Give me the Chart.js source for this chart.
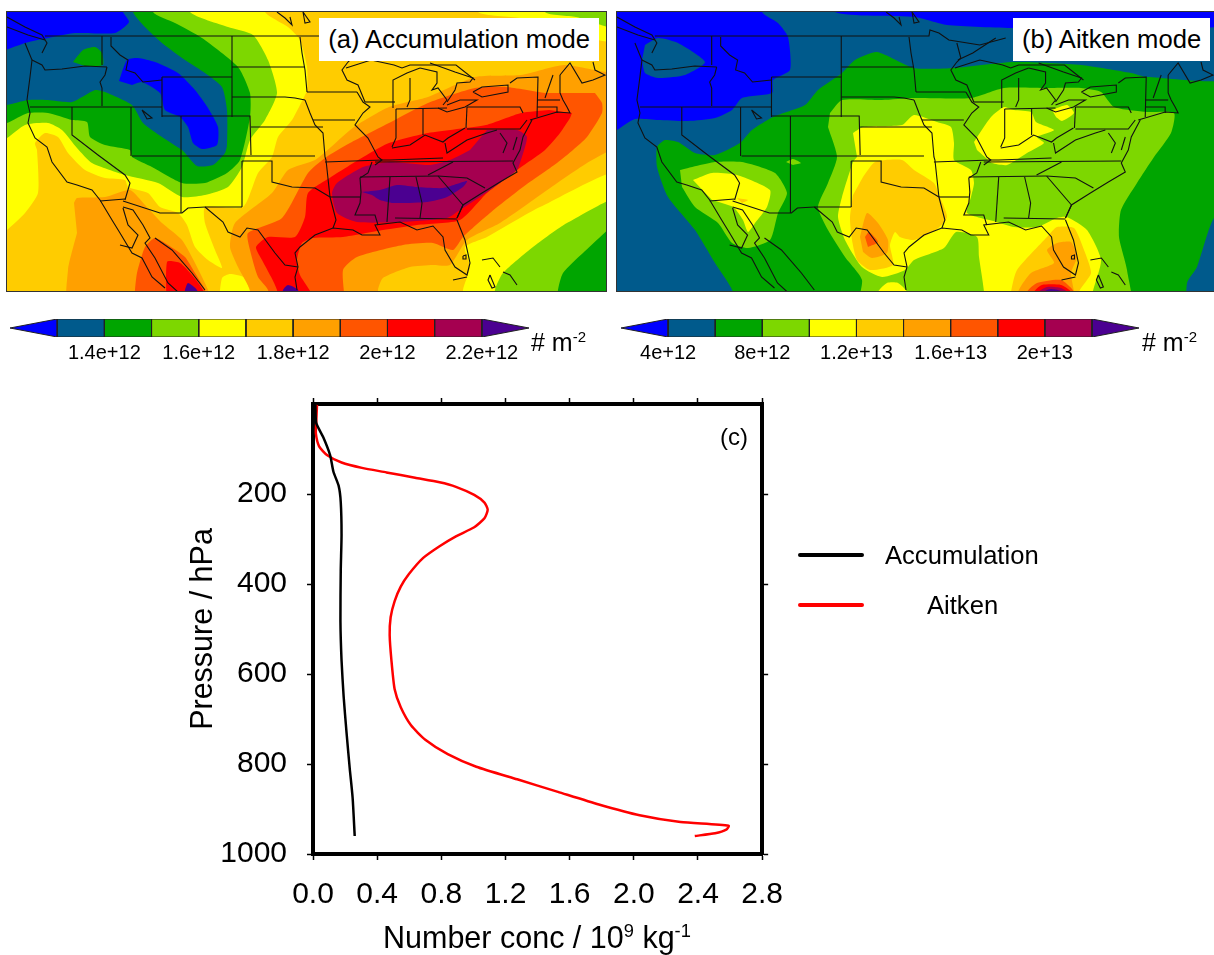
<!DOCTYPE html>
<html lang="en">
<head>
<meta charset="UTF-8">
<title>Aerosol number concentration</title>
<script src="https://cdn.jsdelivr.net/npm/chart.js"></script>
<style>
  html, body { margin: 0; background: #fff; }
  body { position: relative; width: 1214px; height: 955px; overflow: hidden; font-family: "Liberation Sans", Arial, sans-serif; color: #000; }
  .abs { position: absolute; }
  .map { outline: 1px solid #333; }
  .tag { background: #fff; font-size: 25.6px; line-height: 43px; height: 43px; text-align: center; white-space: nowrap; }
  .unit { font-size: 25px; white-space: nowrap; }
  sup { font-size: 60%; line-height: 0; }
</style>
</head>
<body>
  <canvas id="mapA" class="abs map" style="left:7px;top:12px"></canvas>
  <canvas id="mapB" class="abs map" style="left:617px;top:12px"></canvas>
  <div class="abs tag" style="left:319px;top:18px;width:280px">(a) Accumulation mode</div>
  <div class="abs tag" style="left:1013px;top:18px;width:197px">(b) Aitken mode</div>

  <canvas id="barA" class="abs" style="left:0;top:312px"></canvas>
  <canvas id="barB" class="abs" style="left:607px;top:312px"></canvas>
  <div class="abs unit" style="left:531px;top:328px"># m<sup>-2</sup></div>
  <div class="abs unit" style="left:1142px;top:328px"># m<sup>-2</sup></div>

  <canvas id="profile" class="abs" style="left:170px;top:390px"></canvas>
  <div class="abs" style="left:720px;top:423px;font-size:24px">(c)</div>
  <div class="abs" style="left:383px;top:920px;font-size:30.5px;white-space:nowrap">Number conc / 10<sup>9</sup> kg<sup>-1</sup></div>

  <div class="abs" style="left:798px;top:553px;width:66px;height:4px;background:#000;border-radius:2px"></div>
  <div class="abs" style="left:885px;top:541px;font-size:25.6px">Accumulation</div>
  <div class="abs" style="left:798px;top:603px;width:66px;height:4px;background:#f00;border-radius:2px"></div>
  <div class="abs" style="left:927px;top:591px;font-size:25.6px">Aitken</div>

<script>
// colours of the shaded levels, lowest first
const levelColors = ['#0000ff', '#005a8c', '#00a500', '#7dd700', '#ffff00', '#ffcc00', '#ffa000', '#ff5500', '#ff0000', '#a50050', '#4b0091'];
const [BLUE, TEAL, GREEN, LIME, YELLOW, GOLD, ORANGE, DKORANGE, RED, CRIMSON, PURPLE] = levelColors;

// colour bar levels
const levelsA = [1.3e12, 1.4e12, 1.5e12, 1.6e12, 1.7e12, 1.8e12, 1.9e12, 2e12, 2.1e12, 2.2e12];
const endsA = [1.2e12, 2.3e12];
const ticksA = [1.4e12, 1.6e12, 1.8e12, 2e12, 2.2e12];
const tickLabelsA = ['1.4e+12', '1.6e+12', '1.8e+12', '2e+12', '2.2e+12'];
const levelsB = [4e12, 6e12, 8e12, 1e13, 1.2e13, 1.4e13, 1.6e13, 1.8e13, 2e13, 2.2e13];
const endsB = [2e12, 2.4e13];
const ticksB = [4e12, 8e12, 1.2e13, 1.6e13, 2e13];
const tickLabelsB = ['4e+12', '8e+12', '1.2e+13', '1.6e+13', '2e+13'];

// vertical profiles
const accumValues = [0.015, 0.02, 0.064, 0.107, 0.127, 0.16, 0.173, 0.178, 0.173, 0.171, 0.178, 0.191, 0.209, 0.229, 0.247, 0.26];
const accumPressure = [2, 42, 74, 114, 150, 182, 218, 290, 370, 482, 570, 650, 730, 810, 875, 960];
const aitkenValues = [0.025, 0.02, 0.018, 0.038, 0.089, 0.178, 0.305, 0.458, 0.636, 0.789, 0.891, 1.005, 1.069, 1.089, 1.069, 1.005, 0.891, 0.789, 0.687, 0.598, 0.547, 0.509, 0.484, 0.478, 0.489, 0.509, 0.547, 0.611, 0.7, 0.84, 1.018, 1.273, 1.527, 1.782, 2.036, 2.291, 2.591, 2.576, 2.507, 2.38];
const aitkenPressure = [2, 42, 66, 94, 114, 130, 142, 152, 164, 174, 184, 202, 219, 235, 254, 274, 294, 316, 342, 378, 406, 438, 474, 514, 570, 634, 674, 714, 746, 778, 806, 834, 862, 890, 914, 929, 937, 946, 954, 960];
const concTicks = [0, 0.4, 0.8, 1.2, 1.6, 2.0, 2.4, 2.8];
const pressureTicks = [200, 400, 600, 800, 1000];

// contour areas of panel (a), map units, painted in this order
const aYellow = [[-20,-20],[262,-20],[265,12],[288,27],[300,40],[307,67],[307,90],[300,105],[292,120],[278,137],[272,157],[258,173],[243,207],[205,207],[205,223],[215,250],[222,268],[208,260],[195,247],[187,225],[178,213],[160,207],[148,193],[128,187],[125,180],[105,178],[85,170],[68,153],[58,137],[45,133],[35,143],[37,150],[38,193],[25,213],[7,230],[-20,250]];
const aYellowSpot = [[218,310],[222,278],[230,274],[245,278],[255,310]];
const aLime = [[-20,-20],[185,-20],[190,12],[228,27],[253,35],[268,60],[277,93],[265,120],[250,140],[242,167],[228,187],[205,195],[182,197],[158,183],[125,175],[92,163],[77,148],[62,130],[48,123],[25,125],[7,138],[-20,150]];
const aGreen = [[-20,-20],[150,-20],[153,12],[175,23],[202,38],[238,67],[250,93],[250,117],[240,160],[227,173],[205,183],[182,183],[152,167],[132,157],[130,150],[105,145],[90,137],[87,122],[72,120],[48,113],[28,113],[7,123],[-20,130]];
const aTeal = [[-20,-20],[130,-20],[133,12],[145,27],[162,43],[185,60],[205,73],[222,87],[227,110],[227,145],[225,153],[213,165],[197,166],[185,153],[182,150],[162,137],[143,123],[132,105],[105,92],[95,90],[72,102],[48,100],[28,100],[7,105],[-20,108]];
const aGreenSpot = [[73,62],[83,50],[95,47],[102,53],[103,65],[85,66]];
const aBlueCorner = [[-20,-20],[125,-20],[122,10],[129,22],[115,33],[75,33],[48,38],[25,43],[-20,60]];
const aBlueBlob = [[119,81],[127,60],[138,58],[155,62],[178,73],[195,90],[208,108],[218,127],[217,145],[202,149],[193,143],[188,127],[180,117],[165,110],[160,93],[142,82],[132,85]];
const aTopYellow = [[470,-20],[478,12],[520,18],[620,42],[620,-20]];
const aTopLime = [[540,-20],[545,12],[576,17],[620,28],[620,-20]];
const aSeYellow = [[463,320],[463,290],[470,267],[465,247],[487,237],[540,207],[630,170],[630,320]];
const aSeLime = [[495,320],[495,290],[503,273],[533,247],[567,223],[630,195],[630,320]];
const aSeGreen = [[556,320],[558,290],[563,273],[583,253],[630,215],[630,320]];
const aOrange = [[630,72],[606,72],[564,65],[521,75],[475,77],[428,97],[389,107],[354,127],[331,147],[315,160],[288,170],[272,193],[235,223],[230,247],[238,267],[250,290],[255,320],[378,320],[378,290],[383,278],[410,267],[433,265],[450,265],[467,240],[500,223],[543,193],[587,163],[630,140]];
const aDkOrange = [[595,93],[602,103],[602,113],[587,137],[573,150],[557,163],[523,187],[490,213],[463,237],[453,250],[433,243],[403,245],[357,257],[343,270],[343,320],[272,320],[268,290],[258,277],[250,250],[248,233],[282,218],[308,173],[325,158],[350,143],[389,123],[428,103],[475,88],[506,87],[545,93]];
const aRed = [[572,113],[570,118],[560,133],[545,150],[517,170],[487,193],[460,220],[417,225],[383,230],[343,237],[313,238],[302,243],[297,260],[300,275],[312,295],[312,320],[277,320],[277,290],[262,260],[256,247],[268,237],[295,237],[305,217],[308,193],[331,177],[370,153],[389,143],[428,133],[486,125],[521,113],[549,110]];
const aCrimson = [[487,130],[517,130],[527,137],[520,163],[517,170],[500,183],[480,197],[460,210],[447,218],[400,222],[357,222],[337,213],[332,193],[337,183],[363,167],[390,162],[430,165],[450,160],[470,150]];
const aPurple = [[362,192],[380,190],[397,185],[417,187],[443,188],[467,181],[463,187],[447,197],[427,202],[393,203],[380,200],[372,195]];
const aGulfPurple = [[280,310],[283,290],[288,285],[298,290],[301,310]];
const aMexOrange = [[74,203],[77,198],[105,197],[130,190],[145,205],[162,223],[182,240],[195,263],[208,290],[215,320],[70,320],[68,270],[77,233]];
const aMexDkOrange = [[133,320],[135,290],[137,273],[145,247],[155,238],[168,245],[185,257],[195,273],[205,290],[215,320]];
const aMexRed = [[167,320],[167,262],[180,263],[192,275],[203,290],[212,320]];
const aMexPurple = [[182,310],[185,290],[188,283],[197,290],[202,310]];
const layersA = [
  [aYellow, YELLOW], [aYellowSpot, YELLOW], [aLime, LIME], [aGreen, GREEN], [aTeal, TEAL], [aGreenSpot, GREEN], [aBlueCorner, BLUE], [aBlueBlob, BLUE],
  [aTopYellow, YELLOW], [aTopLime, LIME], [aSeYellow, YELLOW], [aSeLime, LIME], [aSeGreen, GREEN],
  [aOrange, ORANGE], [aDkOrange, DKORANGE], [aRed, RED], [aCrimson, CRIMSON], [aPurple, PURPLE], [aGulfPurple, PURPLE],
  [aMexOrange, ORANGE], [aMexDkOrange, DKORANGE], [aMexRed, RED], [aMexPurple, PURPLE]
];

// contour areas of panel (b), same way
const bTeal = [[733,320],[733,292],[715,263],[695,230],[668,197],[657,167],[657,147],[665,140],[678,142],[695,153],[715,155],[740,143],[752,130],[773,117],[805,105],[818,90],[842,73],[855,60],[877,52],[914,68],[954,68],[1014,62],[1081,65],[1131,73],[1147,77],[1240,77],[1240,-20],[600,-20],[600,320]];
const bTealEast = [[1240,205],[1214,218],[1197,267],[1187,283],[1189,320],[1240,320]];
const bBlue = [[600,-20],[760,-20],[762,12],[778,23],[788,37],[790,70],[773,80],[772,93],[742,98],[732,110],[715,118],[688,121],[658,120],[635,119],[617,130],[600,140]];
const bTealWest = [[645,45],[658,38],[678,43],[705,62],[685,75],[658,78],[645,73],[642,60]];
const bBlueTop = [[830,-20],[835,12],[915,17],[947,25],[1014,28],[1230,25],[1230,-20]];
const bLime = [[830,113],[842,100],[882,100],[914,98],[971,98],[1004,88],[1047,88],[1081,88],[1101,92],[1114,107],[1147,112],[1174,113],[1171,133],[1154,157],[1137,183],[1121,210],[1119,237],[1127,270],[1130,320],[858,320],[862,280],[845,257],[828,230],[818,207],[828,183],[837,157],[828,127]];
const bLimeWest = [[680,170],[715,162],[742,162],[775,173],[787,193],[778,213],[770,240],[748,248],[732,243],[718,223],[695,207],[682,187]];
const bYellowWest = [[693,180],[712,173],[737,175],[770,190],[767,207],[755,223],[748,232],[743,220],[733,207],[712,200]];
const bGoldWest = [[737,198],[748,200],[742,203]];
const bLimeSpot = [[786,162],[793,159],[801,163],[793,165]];
const bYellow = [[853,133],[863,127],[902,125],[914,115],[937,122],[951,127],[954,143],[954,160],[971,170],[974,183],[971,197],[967,213],[997,222],[1014,227],[1037,227],[1057,218],[1067,217],[1087,230],[1101,260],[1092,295],[1092,320],[984,320],[984,292],[979,257],[977,237],[956,232],[944,248],[914,260],[905,270],[882,277],[862,267],[845,240],[838,217],[842,197],[853,162],[857,157]];
const bYellowSpot = [[875,320],[878,292],[887,283],[898,283],[907,292],[910,320]];
const bYellowMid = [[974,142],[991,117],[1004,107],[1014,110],[1031,112],[1036,122],[1054,130],[1037,137],[1044,143],[1027,153],[1007,165],[992,163],[986,158],[977,150]];
const bYellowErie = [[1052,110],[1067,105],[1074,113],[1062,121],[1056,117]];
const bGold = [[863,177],[875,162],[902,160],[914,170],[934,183],[939,195],[947,217],[936,230],[914,240],[900,237],[895,232],[890,245],[893,265],[870,270],[857,260],[852,240],[850,218],[853,195]];
const bOrange = [[860,237],[867,213],[878,223],[888,240],[887,253],[872,258],[863,252]];
const bDkOrange = [[865,237],[869,232],[878,242],[868,247]];
const bGoldFl = [[1008,320],[1011,292],[1017,270],[1047,237],[1057,227],[1074,228],[1084,250],[1091,273],[1079,292],[1079,320]];
const bOrangeFl = [[1016,320],[1018,292],[1031,273],[1054,263],[1047,250],[1057,243],[1071,242],[1077,257],[1071,273],[1074,292],[1075,320]];
const bDkOrangeFl = [[1025,320],[1027,292],[1037,283],[1061,280],[1074,292],[1076,320]];
const bRedFl = [[1032,320],[1034,292],[1042,285],[1061,285],[1071,292],[1073,320]];
const bCrimsonFl = [[1037,320],[1039,292],[1047,287],[1061,288],[1067,292],[1069,320]];
const bPurpleFl = [[1042,320],[1044,292],[1051,289],[1062,292],[1064,320]];
const layersB = [
  [bTeal, TEAL], [bTealEast, TEAL], [bBlue, BLUE], [bTealWest, TEAL], [bBlueTop, BLUE],
  [bLime, LIME], [bLimeWest, LIME], [bLimeSpot, LIME], [bYellowWest, YELLOW], [bGoldWest, GOLD],
  [bYellow, YELLOW], [bYellowSpot, YELLOW], [bYellowMid, YELLOW], [bYellowErie, YELLOW],
  [bGold, GOLD], [bOrange, ORANGE], [bDkOrange, DKORANGE],
  [bGoldFl, GOLD], [bOrangeFl, ORANGE], [bDkOrangeFl, DKORANGE], [bRedFl, RED], [bCrimsonFl, CRIMSON], [bPurpleFl, PURPLE]
];

// coast and state lines, map units of panel (a)
const pugetN = [[7,17],[25,27],[42,35],[47,43],[42,53]];
const pugetS = [[7,27],[28,35],[45,40]];
const coastWest = [[25,43],[32,60],[30,77],[27,100],[30,113],[28,123],[35,138],[47,147],[52,162],[67,182],[77,185],[92,190],[100,200],[112,220],[120,233],[132,253],[142,258],[152,277],[165,288]];
const bajaEast = [[123,208],[128,225],[138,235],[132,248],[120,245]];
const sonora = [[123,207],[133,210],[143,225],[150,238],[145,243],[155,258],[168,283],[178,292]];
const sierra = [[155,238],[172,250],[192,273],[205,290]];
const border49 = [[45,36],[320,36],[321,30],[330,33],[340,40],[371,45],[397,38]];
const waOr = [[32,60],[42,65],[45,70],[62,69],[85,66],[107,67]];
const waId = [[102,36],[102,65]];
const orId = [[107,67],[105,75],[100,82],[102,88],[102,106]];
const n42 = [[30,107],[162,107]];
const idMt = [[111,37],[111,46],[120,55],[128,60],[126,70],[135,73],[143,82],[162,80]];
const wyWest = [[162,77],[162,117]];
const wyNorth = [[162,77],[232,77]];
const mtEast = [[232,36],[232,117]];
const wySouth = [[162,116],[250,116],[251,155]];
const coUt = [[181,116],[181,213]];
const utWest = [[131,107],[131,156]];
const nvEast = [[72,107],[72,135],[98,155],[125,175],[130,183],[125,200]];
const caMex = [[100,201],[125,199]];
const azMex = [[123,201],[160,213],[182,213],[188,208],[205,207],[242,207]];
const n37 = [[132,156],[315,156]];
const nmEast = [[242,161],[242,207]];
const okPan = [[242,161],[272,161],[272,182],[292,187],[315,188],[330,197]];
const rioGrande = [[205,207],[223,222],[228,232],[240,237],[247,228],[258,230],[275,253],[285,265],[298,267]];
const texasCoast = [[297,290],[295,277],[298,267],[295,253],[300,247],[315,235],[333,228],[353,230],[362,235],[380,235],[375,225],[400,222],[417,230],[433,226],[443,237],[445,250],[455,267],[467,275],[470,263],[465,240],[457,220]];
const keys = [[453,280],[467,277]];
const kansasN = [[251,127],[323,127]];
const nebraskaN = [[232,97],[285,97],[295,98],[305,100]];
const ndSd = [[232,67],[305,67]];
const ndEast = [[300,37],[302,53],[305,70],[307,92]];
const missouriR = [[305,100],[310,113],[315,125],[323,133],[325,157],[326,160],[330,197]];
const iowaN = [[307,92],[357,92]];
const iowaE = [[357,92],[363,102],[370,107],[363,113],[355,125],[368,138],[378,157],[382,160],[375,165]];
const iowaS = [[313,120],[355,120]];
const moS = [[325,162],[382,160]];
const mnWi = [[348,43],[352,58],[348,62],[342,70],[347,80],[358,85],[365,102]];
const ilWi = [[365,102],[395,102]];
const inWest = [[396,109],[396,138],[392,147]];
const ohWest = [[423,109],[423,135]];
const miS = [[396,109],[447,108]];
const ohioRiver = [[392,148],[410,145],[425,135],[443,142],[448,138],[465,128]];
const ohEast = [[467,107],[466,128]];
const erie = [[438,108],[447,112],[465,107],[477,100],[460,100],[447,105]];
const ontario = [[473,92],[482,87],[508,85],[508,92],[482,97],[473,92]];
const penn = [[467,107],[520,107],[523,113]];
const pennS = [[467,129],[520,129],[527,120]];
const nyN = [[510,83],[517,78],[538,77],[537,117]];
const neLine = [[537,100],[560,100]];
const maLine = [[537,107],[557,107],[557,113]];
const longIsland = [[530,120],[557,112],[570,113],[567,107],[563,100],[560,93],[560,75]];
const vtNh = [[553,75],[545,98]];
const maine = [[560,75],[570,63],[582,83],[593,80],[605,75],[595,70],[593,62]];
const atlantic = [[532,120],[523,137],[520,150],[513,163],[517,172],[500,182],[482,193],[463,205],[457,218]];
const chesWest = [[500,133],[507,143],[503,153]];
const chesEast = [[517,137],[513,150]];
const kyVa = [[445,143],[447,153],[467,140],[487,133],[497,130]];
const vaNc = [[375,162],[513,161]];
const tnKy = [[380,160],[390,160],[443,158]];
const ncTn = [[428,175],[453,162]];
const tnS = [[360,177],[438,176]];
const ncSc = [[438,176],[467,178],[485,188]];
const gaSc = [[438,176],[463,205],[457,218]];
const gaAl = [[416,177],[422,203],[420,218]];
const alS = [[395,218],[457,219]];
const alMs = [[390,177],[387,222]];
const msWest = [[372,162],[368,173],[360,178],[361,192],[360,203],[355,215],[375,215],[378,225]];
const arS = [[330,197],[360,197]];
const txLa = [[330,197],[336,220],[333,228]];
const lakeMichW = [[393,108],[393,80],[407,73],[420,68]];
const lakeMichE = [[410,78],[410,100],[407,107]];
const michiganN = [[420,68],[437,72],[437,83],[432,90],[438,88],[447,100],[443,105]];
const huron = [[447,102],[455,90],[457,83],[470,82],[473,78],[455,72],[430,63]];
const superiorS = [[346,68],[371,60],[394,65],[402,68],[410,65],[456,65],[475,80]];
const superiorN = [[349,60],[364,53],[387,38]];
const saltLake = [[142,110],[152,118],[147,119],[142,110]];
const northLake = [[277,12],[285,18],[292,25],[290,17]];
const northLake2 = [[303,12],[310,22],[305,23],[303,12]];
const bahamas = [[482,260],[493,258],[500,267]];
const andros = [[490,275],[495,287],[492,288],[488,280],[490,275]];
const cays = [[503,272],[510,275],[517,285]];
const okeechobee = [[463,256],[466,255],[466,259],[463,259],[463,256]];
const outlines = [pugetN, pugetS, coastWest, bajaEast, sonora, sierra, border49, waOr, waId, orId, n42, idMt, wyWest, wyNorth, mtEast, wySouth, coUt, utWest, nvEast, caMex, azMex, n37, nmEast, okPan, rioGrande, texasCoast, keys, kansasN, nebraskaN, ndSd, ndEast, missouriR, iowaN, iowaE, iowaS, moS, mnWi, ilWi, inWest, ohWest, miS, ohioRiver, ohEast, erie, ontario, penn, pennS, nyN, neLine, maLine, longIsland, vtNh, maine, atlantic, chesWest, chesEast, kyVa, vaNc, tnKy, ncTn, tnS, ncSc, gaSc, gaAl, alS, alMs, msWest, arS, txLa, lakeMichW, lakeMichE, michiganN, huron, superiorS, superiorN, saltLake, northLake, northLake2, bahamas, andros, cays, okeechobee];

const toPts = arr => arr.map(p => ({ x: p[0], y: p[1] }));

function mapChart(id, w, base, layers, range) {
  const canvas = document.getElementById(id);
  canvas.width = w; canvas.height = 279;
  canvas.style.background = base;
  const datasets = [];
  // filled areas, later ones on top
  layers.forEach((l, i) => datasets.push({
    data: toPts(l[0]), showLine: true, fill: 'shape', backgroundColor: l[1],
    borderWidth: 0, borderColor: l[1], pointRadius: 0, tension: 0.2, order: 1000 - i, xAxisID: 'x', yAxisID: 'y'
  }));
  outlines.forEach(o => datasets.push({
    data: toPts(o), showLine: true, fill: false, borderColor: '#111', borderWidth: 1.1,
    pointRadius: 0, tension: 0, order: 0, xAxisID: 'xo', yAxisID: 'yo'
  }));
  new Chart(canvas, {
    type: 'scatter',
    data: { datasets },
    options: {
      responsive: false, animation: false, layout: { padding: 0 },
      plugins: { legend: { display: false }, tooltip: { enabled: false } },
      elements: { line: { capBezierPoints: false } },
      scales: {
        x: { type: 'linear', display: false, min: range[0], max: range[1] },
        y: { type: 'linear', display: false, min: range[2], max: range[3], reverse: true },
        xo: { type: 'linear', display: false, min: 7, max: 606 },
        yo: { type: 'linear', display: false, min: 12, max: 291, reverse: true }
      }
    }
  });
}

function barChart(id, levels, ends, ticks, labels, w) {
  const canvas = document.getElementById(id);
  canvas.width = w; canvas.height = 70;
  const datasets = [];
  const box = (pts, c) => datasets.push({
    data: pts.map(p => ({ x: p[0], y: p[1] })), showLine: true, fill: 'shape', backgroundColor: c,
    borderColor: '#222', borderWidth: 1, pointRadius: 0, tension: 0
  });
  box([[ends[0], 0.5], [levels[0], 1], [levels[0], 0], [ends[0], 0.5]], levelColors[0]);
  for (let i = 0; i < levels.length - 1; i++) {
    box([[levels[i], 0], [levels[i], 1], [levels[i + 1], 1], [levels[i + 1], 0], [levels[i], 0]], levelColors[i + 1]);
  }
  const last = levels[levels.length - 1];
  box([[last, 0], [last, 1], [ends[1], 0.5], [last, 0]], levelColors[10]);
  new Chart(canvas, {
    type: 'scatter',
    data: { datasets },
    options: {
      responsive: false, animation: false,
      layout: { padding: { left: id === 'barA' ? 10 : 14, right: w - (id === 'barA' ? 529 : 532), top: 7, bottom: 0 } },
      plugins: { legend: { display: false }, tooltip: { enabled: false } },
      scales: {
        x: {
          type: 'linear', min: ends[0], max: ends[1],
          afterBuildTicks: s => { s.ticks = ticks.map(v => ({ value: v })); },
          afterFit: s => { s.height = 45; },
          grid: { display: false, drawTicks: false }, border: { display: false },
          ticks: {
            autoSkip: false, maxRotation: 0, padding: 4, color: '#000',
            font: { family: 'Liberation Sans', size: 20 },
            callback: v => labels[ticks.indexOf(v)]
          }
        },
        y: { type: 'linear', display: false, min: 0, max: 1 }
      }
    }
  });
}

mapChart('mapA', 599, GOLD, layersA, [7, 606, 12, 291]);
mapChart('mapB', 597, GREEN, layersB, [617, 1214, 12, 291]);
barChart('barA', levelsA, endsA, ticksA, tickLabelsA, 560);
barChart('barB', levelsB, endsB, ticksB, tickLabelsB, 560);

// profile panel (c)
const profile = document.getElementById('profile');
profile.width = 630; profile.height = 565;
const thinTicks = { tickLength: 6, tickWidth: 1.5, tickColor: '#000', drawOnChartArea: false };
const thickBorder = { display: true, width: 4, color: '#000' };
const xSide = { type: 'linear', min: 0, max: 2.8, afterBuildTicks: s => { s.ticks = concTicks.map(v => ({ value: v })); } };
const ySide = { type: 'linear', min: 0, max: 1000, reverse: true, afterBuildTicks: s => { s.ticks = pressureTicks.map(v => ({ value: v })); } };
const tickFont = { family: 'Liberation Sans', size: 30 };
new Chart(profile, {
  type: 'scatter',
  data: {
    datasets: [
      { label: 'Accumulation', data: accumValues.map((v, i) => ({ x: v, y: accumPressure[i] })), showLine: true, borderColor: '#000', borderWidth: 2.5, pointRadius: 0, tension: 0.2 },
      { label: 'Aitken', data: aitkenValues.map((v, i) => ({ x: v, y: aitkenPressure[i] })), showLine: true, borderColor: '#f00', borderWidth: 2.5, pointRadius: 0, tension: 0.2 }
    ]
  },
  options: {
    responsive: false, animation: false,
    layout: { padding: { top: 14, right: 37 } },
    plugins: { legend: { display: false }, tooltip: { enabled: false } },
    scales: {
      x: {
        ...xSide, position: 'bottom',
        afterFit: s => { s.height = 101; },
        grid: thinTicks, border: thickBorder,
        ticks: { maxRotation: 0, autoSkip: false, color: '#000', padding: 17, font: tickFont, callback: v => v.toFixed(1) }
      },
      x2: {
        ...xSide, position: 'top',
        afterFit: s => { s.height = 0; },
        grid: thinTicks, border: thickBorder,
        ticks: { display: false }
      },
      y: {
        ...ySide, position: 'left',
        afterFit: s => { s.width = 143; s.paddingTop = 0; s.paddingBottom = 0; },
        grid: thinTicks, border: thickBorder,
        title: { display: true, text: 'Pressure / hPa', color: '#000', font: { family: 'Liberation Sans', size: 30.5 }, padding: { top: 15, bottom: 0 } },
        ticks: { autoSkip: false, color: '#000', padding: 20, font: tickFont, callback: v => String(v) }
      },
      y2: {
        ...ySide, position: 'right',
        afterFit: s => { s.width = 0; },
        grid: thinTicks, border: thickBorder,
        ticks: { display: false }
      }
    }
  }
});
</script>
</body>
</html>
